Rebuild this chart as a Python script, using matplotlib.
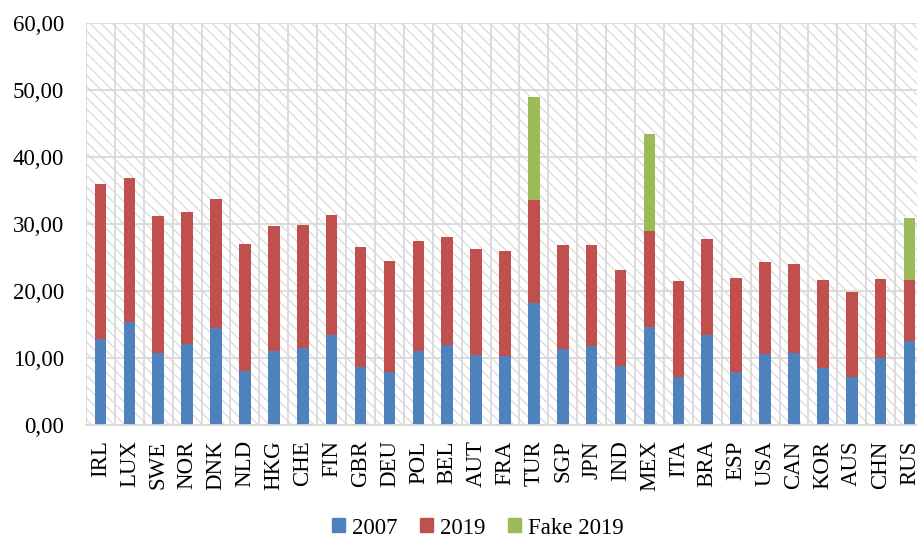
import matplotlib
matplotlib.use('Agg')
import matplotlib.pyplot as plt
from matplotlib.patches import Rectangle, Patch
import numpy as np

# data
countries = ['IRL', 'LUX', 'SWE', 'NOR', 'DNK', 'NLD', 'HKG', 'CHE', 'FIN', 'GBR',
             'DEU', 'POL', 'BEL', 'AUT', 'FRA', 'TUR', 'SGP', 'JPN', 'IND', 'MEX',
             'ITA', 'BRA', 'ESP', 'USA', 'CAN', 'KOR', 'AUS', 'CHN', 'RUS']
v2007 = [12.8, 15.3, 10.8, 12.1, 14.5, 8.0, 11.1, 11.5, 13.4, 8.7,
         7.9, 11.1, 11.9, 10.5, 10.3, 18.2, 11.4, 11.8, 8.8, 14.6,
         7.1, 13.4, 7.9, 10.6, 10.8, 8.5, 7.1, 10.0, 12.5]
total2019 = [35.9, 36.8, 31.2, 31.8, 33.8, 27.0, 29.7, 29.8, 31.4, 26.6,
             24.5, 27.5, 28.1, 26.2, 25.9, 33.6, 26.8, 26.9, 23.2, 29.0,
             21.5, 27.7, 21.9, 24.4, 24.0, 21.7, 19.8, 21.8, 21.7]
total_fake = [0, 0, 0, 0, 0, 0, 0, 0, 0, 0,
              0, 0, 0, 0, 0, 48.9, 0, 0, 0, 43.5,
              0, 0, 0, 0, 0, 0, 0, 0, 30.9]
yticks = [0, 10, 20, 30, 40, 50, 60]

blue = '#4F81BD'
red = '#C0504D'
green = '#9BBB59'
grid_c = '#D9D9D9'

plt.rcParams['font.family'] = ['Liberation Serif', 'DejaVu Serif']
plt.rcParams['hatch.color'] = '#DADADA'
plt.rcParams['hatch.linewidth'] = 0.9

fig = plt.figure(figsize=(9.17, 5.39), dpi=100)
ax = fig.add_axes([86/917, 114/539, 838/917, 402/539])

x = np.arange(len(countries))
v2007 = np.array(v2007)
part2019 = np.array(total2019) - v2007
part_fake = np.where(np.array(total_fake) > 0, np.array(total_fake) - np.array(total2019), 0)

# hatched background
bg = Rectangle((0, 0), 1, 1, transform=ax.transAxes, facecolor='white',
               hatch='\\\\\\', linewidth=0, zorder=0)
ax.add_patch(bg)
ax.set_facecolor('white')

w = 0.4
ax.bar(x, v2007, w, color=blue, zorder=3)
ax.bar(x, part2019, w, bottom=v2007, color=red, zorder=3)
ax.bar(x, part_fake, w, bottom=total2019, color=green, zorder=3)

ax.set_xlim(-0.5, len(countries) - 0.5)
ax.set_ylim(0, 60)
ax.set_yticks(yticks)
ax.set_yticklabels(['%d,00' % t for t in yticks])
ax.set_xticks(x)
ax.set_xticklabels(countries, rotation=90)
ax.set_xticks(np.arange(-0.5, len(countries)), minor=True)

ax.grid(axis='y', which='major', color=grid_c, linewidth=1.3, zorder=1)
ax.grid(axis='x', which='minor', color=grid_c, linewidth=1.3, zorder=1)
ax.set_axisbelow(True)

for s in ['top', 'right', 'left']:
    ax.spines[s].set_visible(False)
ax.spines['bottom'].set_color(grid_c)
ax.spines['bottom'].set_linewidth(1.3)
ax.spines['bottom'].set_zorder(4)

ax.tick_params(axis='y', length=0, pad=16, labelsize=16.5)
ax.tick_params(axis='x', which='both', length=0, pad=11, labelsize=16.5)

handles = [Patch(color=blue, label='2007'), Patch(color=red, label='2019'),
           Patch(color=green, label='Fake 2019')]
fig.legend(handles=handles, loc='center', bbox_to_anchor=(478/917, 1 - 528/539),
           ncol=3, frameon=False, fontsize=16.5, handlelength=0.55, handleheight=0.55,
           handletextpad=0.3, columnspacing=1.0)

fig.savefig('out.png', dpi=100)
